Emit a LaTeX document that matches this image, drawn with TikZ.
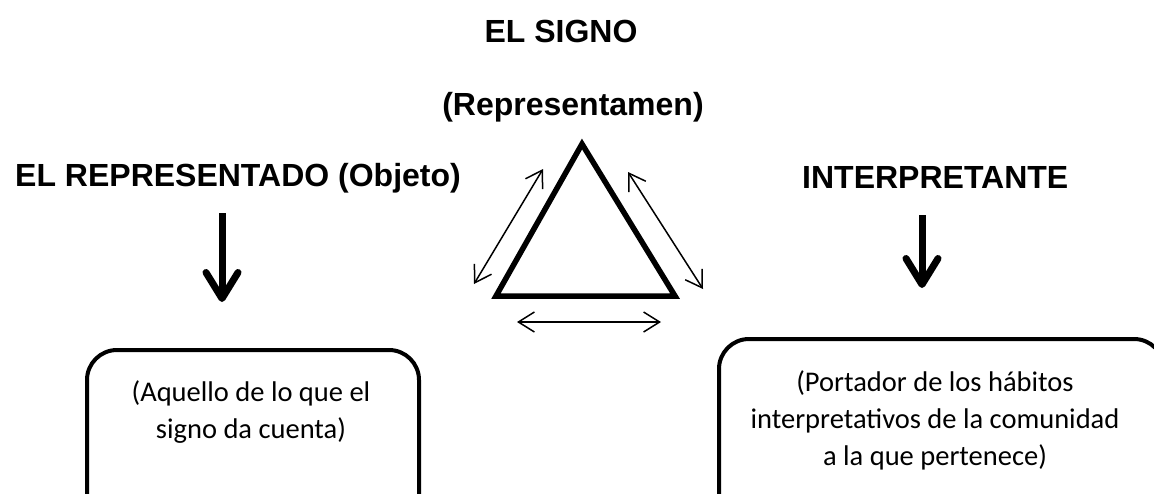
\documentclass[tikz,border=0pt]{standalone}
\usepackage{fontspec}
\setmainfont{Carlito}
\newfontfamily\headfont{Liberation Sans}
\usetikzlibrary{arrows.meta,
	positioning}
\tikzstyle{headtxt}=[font=\headfont\bfseries\fontsize{32}{38}\selectfont, inner sep=0, anchor=base]
\tikzstyle{bodytxt}=[font=\fontsize{28.5}{37}\selectfont, align=center, inner sep=0]
\tikzstyle{roundbox}=[draw, line width=4pt, rounded corners=30pt, inner sep=0, anchor=north west]
\tikzstyle{triline}=[draw, line width=5.5pt]
\tikzstyle{twoway}=[line width=1.5pt, {Straight Barb[length=16pt,width=20pt]}-{Straight Barb[length=16pt,width=20pt]}]
\tikzstyle{downarrow}=[line width=7pt, -{Straight Barb[length=26pt,width=32pt,round]}]

\begin{document}
\begin{tikzpicture}[x=1pt, y=-1pt]
	\useasboundingbox (0,0) rectangle (1154,493);
	\fill[white] (0,0) rectangle (1154,493);
	\clip (0,0) rectangle (1154,493);
	% headings
	\node[headtxt] (signo) at (561,42) {EL SIGNO};
	\node[headtxt] (repr) at (573,115) {(Representamen)};
	\node[headtxt, anchor=base west] (objeto) at (15,186) {EL REPRESENTADO (Objeto)};
	\node[headtxt, anchor=base west] (interp) at (802,188) {INTERPRETANTE};
	% triangle and its arrows
	\coordinate (apex) at (582,144);
	\coordinate (bl) at (496,296);
	\coordinate (br) at (675,296);
	\draw[triline] (apex) -- (bl) -- (br) -- cycle;
	\coordinate (l1) at (474,284);
	\coordinate (l2) at (543,169);
	\coordinate (r1) at (628,172);
	\coordinate (r2) at (703,289);
	\coordinate (b1) at (517,322);
	\coordinate (b2) at (661,322);
	\draw[twoway] (l1) -- (l2);
	\draw[twoway] (r1) -- (r2);
	\draw[twoway] (b1) -- (b2);
	% boxes
	\node[roundbox, minimum width=332pt, minimum height=240pt] (objbox) at (85,348) {};
	\node[roundbox, minimum width=445pt, minimum height=240pt] (intbox) at (717,337) {};
	\node[bodytxt, text depth=0pt] (objtxt) at (251,410) {(Aquello de lo que el\\signo da cuenta)};
	\node[bodytxt] (inttxt) at (935,420) {(Portador de los hábitos\\interpretativos de la comunidad\\a la que pertenece)};
	% down arrows
	\coordinate (o1) at (222,213);
	\coordinate (o2) at (222,302);
	\coordinate (i1) at (922,215);
	\coordinate (i2) at (922,288);
	\draw[downarrow] (o1) -- (o2);
	\draw[downarrow] (i1) -- (i2);
\end{tikzpicture}
\end{document}
